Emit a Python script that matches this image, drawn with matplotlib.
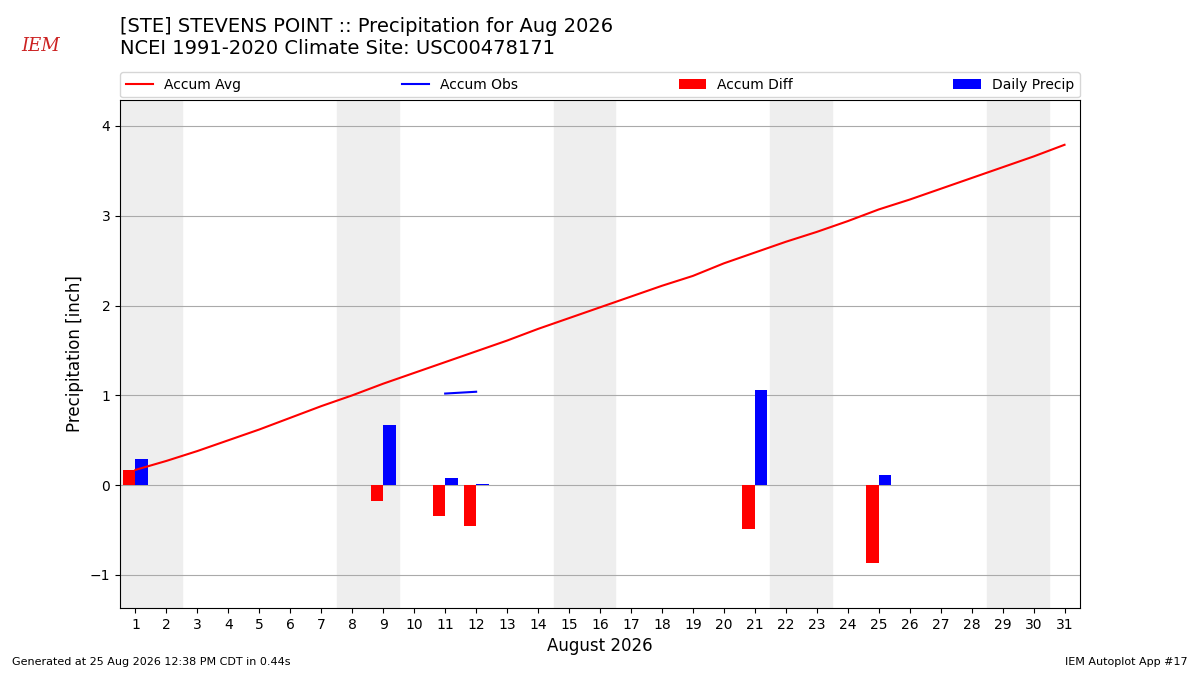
"""Monthly precipitation summary chart."""
import matplotlib
matplotlib.use("Agg")
import matplotlib.pyplot as plt
import numpy as np

days = np.arange(1, 32)
accum_avg = [0.17, 0.27, 0.38, 0.50, 0.62, 0.75, 0.88, 1.00, 1.13, 1.25,
             1.37, 1.49, 1.61, 1.74, 1.86, 1.98, 2.10, 2.22, 2.33, 2.47,
             2.59, 2.71, 2.82, 2.94, 3.07, 3.18, 3.30, 3.42, 3.54, 3.66, 3.79]
obs_days = [11, 12]
accum_obs = [1.02, 1.04]
precip_days = [1, 9, 11, 12, 21, 25]
daily_precip = [0.29, 0.67, 0.08, 0.01, 1.06, 0.11]
diff_days = [1, 9, 11, 12, 21, 25]
accum_diff = [0.17, -0.18, -0.34, -0.46, -0.49, -0.87]
weekends = [1, 8, 15, 22, 29]

fig = plt.figure(figsize=(12, 6.75), dpi=100)
ax = fig.add_axes([0.1, 0.099, 0.8, 0.753])

for start in weekends:
    ax.axvspan(start - 0.5, start + 1.5, color="#eeeeee", zorder=0)

ax.plot(days, accum_avg, color="r", label="Accum Avg", zorder=3)
ax.plot(obs_days, accum_obs, color="b", label="Accum Obs", zorder=3)
ax.bar(diff_days, accum_diff, width=-0.4, align="edge", color="r",
       label="Accum Diff", zorder=2)
ax.bar(precip_days, daily_precip, width=0.4, align="edge", color="b",
       label="Daily Precip", zorder=2)

ax.set_xlim(0.5, 31.5)
ax.set_ylim(-1.37, 4.29)
ax.set_xticks(days)
ax.set_yticks([-1, 0, 1, 2, 3, 4])
ax.set_yticklabels(["\u22121", "0", "1", "2", "3", "4"])
ax.yaxis.grid(True, color="#aaaaaa", zorder=1)
ax.set_axisbelow(True)
ax.set_xlabel("August 2026", fontsize=12)
ax.set_ylabel("Precipitation [inch]", fontsize=12)
ax.tick_params(labelsize=10)

ax.legend(loc="lower left", bbox_to_anchor=(0, 1.005, 1, 0.05), ncol=4,
          mode="expand", borderaxespad=0, fontsize=10)

fig.text(0.1, 0.945, "[STE] STEVENS POINT :: Precipitation for Aug 2026\n"
         "NCEI 1991-2020 Climate Site: USC00478171",
         fontsize=14, va="center", ha="left")
fig.text(0.01, 0.015, "Generated at 25 Aug 2026 12:38 PM CDT in 0.44s",
         fontsize=8)
fig.text(0.99, 0.015, "IEM Autoplot App #17", fontsize=8, ha="right")
fig.text(0.018, 0.925, "IEM", fontsize=13, color="#cc2222",
         family="serif", style="italic")

fig.savefig("out.png", dpi=100)
